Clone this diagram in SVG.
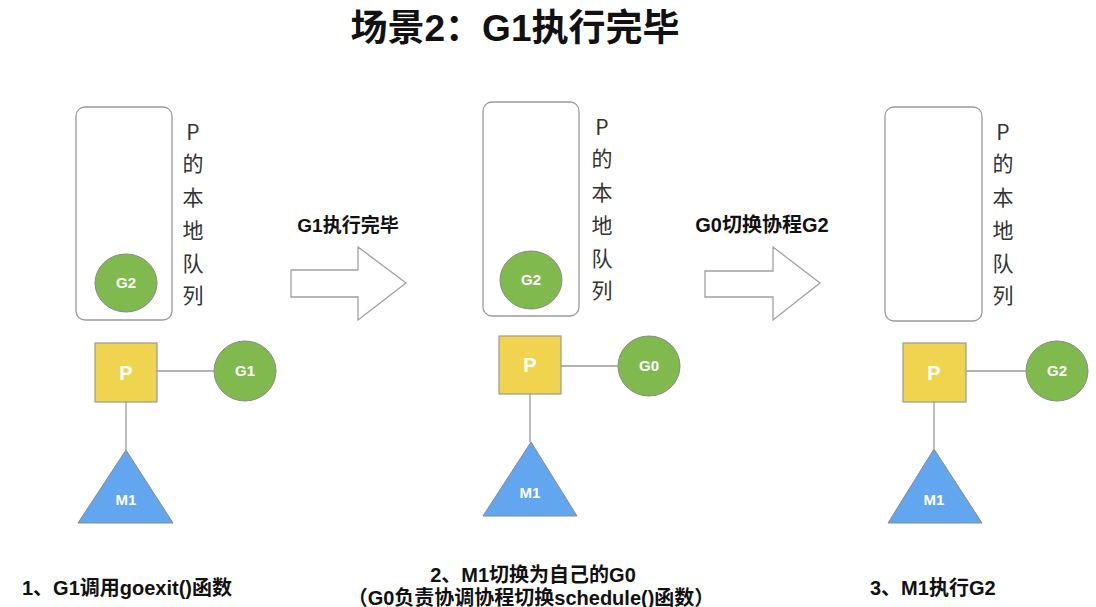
<svg xmlns="http://www.w3.org/2000/svg" width="1096" height="607" viewBox="0 0 1096 607">
<style>
.q{fill:#fff;stroke:#9a9a9a;stroke-width:1.3}
.g{fill:#80ba4f;stroke:#8a8a8a;stroke-width:1}
.p{fill:#f0d34f;stroke:#9a9a9a;stroke-width:1.2}
.m{fill:#62a6ef;stroke:#8a8a8a;stroke-width:1}
.ln{stroke:#9a9a9a;stroke-width:1.3;fill:none}
.arr{fill:#fff;stroke:#a0a0a0;stroke-width:1.3}
.w{font-family:"Liberation Sans","Noto Sans CJK SC",sans-serif;font-weight:bold;fill:#fff;text-anchor:middle}
.v{font-family:"Noto Sans CJK SC","Liberation Sans",sans-serif;font-size:21px;fill:#333;text-anchor:middle}
.b{font-family:"Liberation Sans","Noto Sans CJK SC",sans-serif;font-weight:bold;fill:#111}
</style>
<text class="b" x="515" y="41" font-size="37" text-anchor="middle">场景2：G1执行完毕</text>

<g id="panel1">
<rect class="q" x="76" y="107" width="96" height="213" rx="9"/>
<ellipse class="g" cx="126" cy="283" rx="31" ry="29"/>
<text class="w" x="126" y="288" font-size="15">G2</text>
<text class="v"><tspan x="193" y="140">P</tspan><tspan x="193" y="171">的</tspan><tspan x="193" y="205">本</tspan><tspan x="193" y="238">地</tspan><tspan x="193" y="271">队</tspan><tspan x="193" y="303">列</tspan></text>
</g>
<g id="p1"><rect class="p" x="95" y="343" width="62" height="59"/><text class="w" x="126" y="380" font-size="20">P</text></g>
<g id="g1"><ellipse class="g" cx="245" cy="371" rx="31" ry="30"/><text class="w" x="245" y="376" font-size="15">G1</text></g>
<g id="m1a"><polygon class="m" points="126,450 173,523 78,523"/><text class="w" x="126" y="505" font-size="15">M1</text></g>

<g id="panel2">
<rect class="q" x="483" y="102" width="96" height="214" rx="9"/>
<ellipse class="g" cx="531" cy="280" rx="31" ry="29"/>
<text class="w" x="531" y="285" font-size="15">G2</text>
<text class="v"><tspan x="602" y="135">P</tspan><tspan x="602" y="166">的</tspan><tspan x="602" y="200">本</tspan><tspan x="602" y="233">地</tspan><tspan x="602" y="266">队</tspan><tspan x="602" y="298">列</tspan></text>
</g>
<g id="p2"><rect class="p" x="499" y="336" width="62" height="58"/><text class="w" x="530" y="372" font-size="20">P</text></g>
<g id="g0"><ellipse class="g" cx="649" cy="366" rx="31" ry="30"/><text class="w" x="649" y="371" font-size="15">G0</text></g>
<g id="m1b"><polygon class="m" points="531,442 577,516 483,516"/><text class="w" x="530" y="498" font-size="15">M1</text></g>

<g id="panel3">
<rect class="q" x="885" y="107" width="97" height="214" rx="9"/>
<text class="v"><tspan x="1003" y="140">P</tspan><tspan x="1003" y="171">的</tspan><tspan x="1003" y="205">本</tspan><tspan x="1003" y="238">地</tspan><tspan x="1003" y="271">队</tspan><tspan x="1003" y="303">列</tspan></text>
</g>
<g id="p3"><rect class="p" x="903" y="343" width="63" height="59"/><text class="w" x="934" y="380" font-size="20">P</text></g>
<g id="g2c"><ellipse class="g" cx="1057" cy="371" rx="31" ry="30"/><text class="w" x="1057" y="376" font-size="15">G2</text></g>
<g id="m1c"><polygon class="m" points="934,449 982,523 888,523"/><text class="w" x="934" y="505" font-size="15">M1</text></g>

<g id="arrow1">
<polygon class="arr" points="291,270 358,270 358,247 406,283 358,320 358,297 291,297"/>
<text class="b" x="348" y="232" font-size="19" text-anchor="middle">G1执行完毕</text>
</g>
<g id="arrow2">
<polygon class="arr" points="705,271 773,271 773,247 820,283 773,320 773,297 705,297"/>
<text class="b" x="762" y="232" font-size="20" text-anchor="middle">G0切换协程G2</text>
</g>

<g id="connectors">
<line class="ln" x1="157" y1="371" x2="214" y2="371"/>
<line class="ln" x1="126" y1="402" x2="126" y2="450"/>
<line class="ln" x1="561" y1="366" x2="618" y2="366"/>
<line class="ln" x1="530" y1="394" x2="530" y2="442"/>
<line class="ln" x1="966" y1="371" x2="1026" y2="371"/>
<line class="ln" x1="934" y1="402" x2="934" y2="449"/>
</g>

<g id="captions">
<text class="b" x="22" y="595" font-size="20">1、G1调用goexit()函数</text>
<text class="b" x="533" y="582" font-size="20" text-anchor="middle">2、M1切换为自己的G0</text>
<text class="b" x="531" y="605" font-size="20" text-anchor="middle">（G0负责协调协程切换schedule()函数）</text>
<text class="b" x="870" y="595" font-size="20">3、M1执行G2</text>
</g>
</svg>
